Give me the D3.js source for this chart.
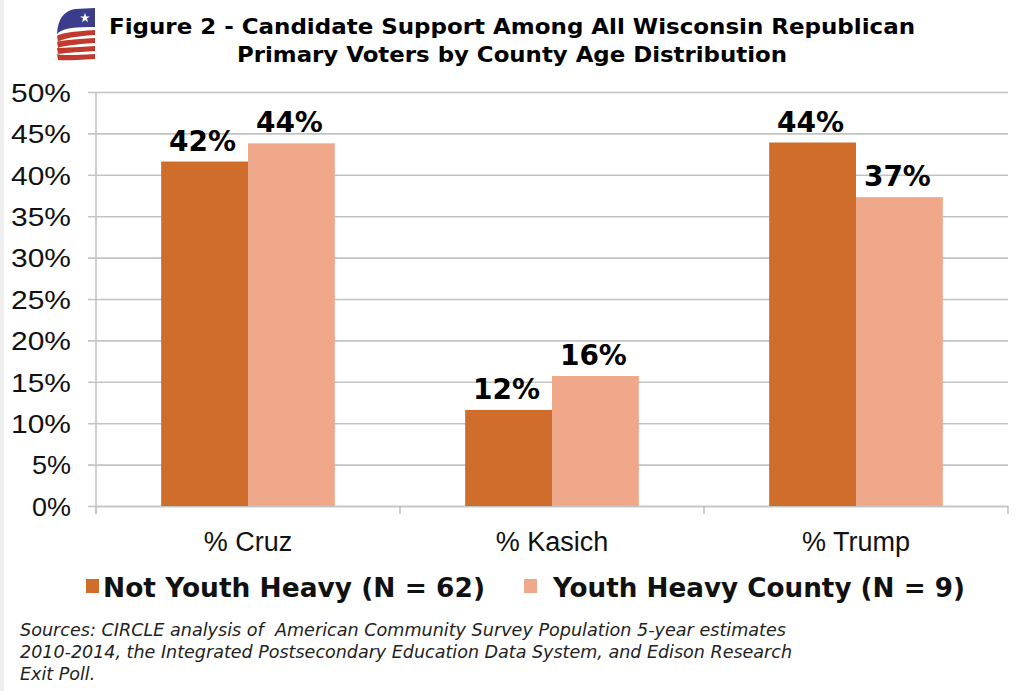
<!DOCTYPE html>
<html>
<head>
<meta charset="utf-8">
<script src="https://cdn.jsdelivr.net/npm/d3@7"></script>
<style>
  html, body { margin: 0; padding: 0; background: #fff; }
  svg { display: block; }
</style>
</head>
<body>
<script>
// ---- data ----
const categories = ["% Cruz", "% Kasich", "% Trump"];
const seriesNames = ["Not Youth Heavy (N = 62)", "Youth Heavy County (N = 9)"];
const notYouthHeavy = [41.6, 11.6, 43.9];
const youthHeavy = [43.8, 15.7, 37.3];
const yTicks = [0, 5, 10, 15, 20, 25, 30, 35, 40, 45, 50];
const titleLines = ["Figure 2 - Candidate Support Among All Wisconsin Republican",
                    "Primary Voters by County Age Distribution"];
const sourceLines = ["Sources: CIRCLE analysis of  American Community Survey Population 5-year estimates",
                     "2010-2014, the Integrated Postsecondary Education Data System, and Edison Research",
                     "Exit Poll."];

const colors = ["#D16D2A", "#F0A88A"];
const W = 1024, H = 691;
const svg = d3.select("body").append("svg").attr("width", W).attr("height", H)
  .style("font-family", "'DejaVu Sans', Verdana, sans-serif");

// left frame strip
svg.append("rect").attr("x", 0).attr("y", 0).attr("width", 4).attr("height", H).attr("fill", "#efefef");

const plot = { left: 96, right: 1008, top: 92, bottom: 506 };

const x0 = d3.scaleBand().domain(categories).range([plot.left, plot.right]).paddingInner(0).paddingOuter(0);
const bw = x0.bandwidth();
const barW = bw / 3.5;
const x1 = d3.scaleBand().domain([0, 1]).range([(bw - 2 * barW) / 2, (bw + 2 * barW) / 2]).padding(0);
const y = d3.scaleLinear().domain([0, 50]).range([plot.bottom, plot.top]);

// gridlines + y axis
const fmtY = d => d + "%";
const yAxis = d3.axisLeft(y).tickValues(yTicks).tickSize(plot.right - plot.left + 8)
  .tickFormat(fmtY).tickPadding(18);
const gy = svg.append("g").attr("transform", `translate(${plot.right},0)`).call(yAxis);
gy.select(".domain").remove();
gy.selectAll(".tick line").attr("stroke", "#c3c3c3").attr("stroke-width", 1.6);
gy.selectAll(".tick text").attr("font-size", 26).attr("fill", "#111")
  .attr("x", -(plot.right - 71)).attr("text-anchor", "end").attr("dy", "0.36em")
  .attr("textLength", d => fmtY(d).length === 2 ? 39 : 60)
  .attr("lengthAdjust", "spacingAndGlyphs");

// vertical axis line
svg.append("line").attr("x1", plot.left).attr("x2", plot.left).attr("y1", plot.top).attr("y2", plot.bottom + 8)
  .attr("stroke", "#c3c3c3").attr("stroke-width", 1.6);

// x axis
const xAxis = d3.axisBottom(x0).tickSize(0).tickPadding(26);
const gx = svg.append("g").attr("transform", `translate(0,${plot.bottom})`).call(xAxis);
gx.select(".domain").attr("stroke", "#c3c3c3").attr("stroke-width", 1.6);
gx.selectAll(".tick text").attr("font-size", 27).attr("fill", "#111").attr("dy", "0.71em");
// category boundary ticks
const bounds = categories.map(c => x0(c)).concat([x0(categories[categories.length - 1]) + bw]);
svg.append("g").selectAll("line").data(bounds).join("line")
  .attr("x1", d => d).attr("x2", d => d).attr("y1", plot.bottom).attr("y2", plot.bottom + 8)
  .attr("stroke", "#c3c3c3").attr("stroke-width", 1.6);

// bars
const series = [notYouthHeavy, youthHeavy];
const rows = [];
series.forEach((vals, si) => vals.forEach((v, ci) => rows.push({ si, ci, v })));
svg.append("g").selectAll("rect").data(rows).join("rect")
  .attr("x", d => x0(categories[d.ci]) + x1(d.si))
  .attr("width", x1.bandwidth())
  .attr("y", d => y(d.v))
  .attr("height", d => y(0) - y(d.v))
  .attr("fill", d => colors[d.si]);

// labels
svg.append("g").selectAll("text").data(rows).join("text")
  .attr("x", d => x0(categories[d.ci]) + x1(d.si) + x1.bandwidth() / 2 - 2)
  .attr("y", d => y(d.v) - 11)
  .attr("text-anchor", "middle")
  .attr("font-size", 28).attr("font-weight", "bold").attr("fill", "#000")
  .text(d => d3.format(".0f")(d.v) + "%");

// title
const tl = svg.append("g");
tl.append("text").attr("x", 512).attr("y", 34).attr("text-anchor", "middle")
  .attr("font-size", 21).attr("font-weight", "bold").attr("fill", "#000")
  .attr("textLength", 806).attr("lengthAdjust", "spacingAndGlyphs").text(titleLines[0]);
tl.append("text").attr("x", 512).attr("y", 62).attr("text-anchor", "middle")
  .attr("font-size", 21).attr("font-weight", "bold").attr("fill", "#000")
  .attr("textLength", 550).attr("lengthAdjust", "spacingAndGlyphs").text(titleLines[1]);

// logo
const logo = svg.append("g");
logo.append("path").attr("fill", "#3A3D8C")
  .attr("d", "M95,8 L75,9 Q58,12 57,34 Q63,26 95,27 Z");
logo.append("path").attr("fill", "#fff")
  .attr("d", d3.symbol(d3.symbolStar, 30)())
  .attr("transform", "translate(85,18)");
const stripeTops = [30, 38, 46, 54];
logo.selectAll(".stripe").data(stripeTops).join("path").attr("class", "stripe").attr("fill", "#C23A2E")
  .attr("d", (t, i) => {
    const lt = 36 + i * 6;
    return `M57,${lt} Q61,${t + 2} 95,${t} L95,${t + 5} Q64,${t + 7} 58,${lt + 6} Z`;
  });

// legend
const legX = [86, 524], legT = [103, 553], legLen = [382, 412];
seriesNames.forEach((n, i) => {
  svg.append("rect").attr("x", legX[i]).attr("y", 579).attr("width", 13).attr("height", 14).attr("fill", colors[i]);
  svg.append("text").attr("x", legT[i]).attr("y", 597).attr("font-size", 27).attr("font-weight", "bold")
    .attr("fill", "#111").attr("textLength", legLen[i]).attr("lengthAdjust", "spacingAndGlyphs").text(n);
});

// sources
const srcLen = [766, 772, 0];
svg.append("g").selectAll("text").data(sourceLines).join("text")
  .attr("x", 20).attr("y", (d, i) => 636 + i * 22)
  .attr("font-size", 17.5).attr("font-style", "italic").attr("fill", "#222")
  .style("white-space", "pre")
  .each(function (d, i) { if (srcLen[i]) d3.select(this).attr("textLength", srcLen[i]).attr("lengthAdjust", "spacingAndGlyphs"); })
  .text(d => d);
</script>
</body>
</html>
